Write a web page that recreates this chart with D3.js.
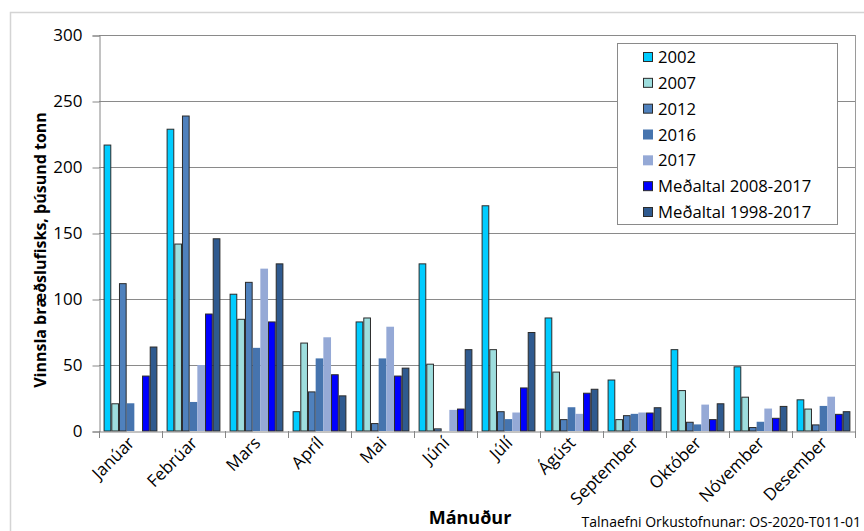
<!DOCTYPE html>
<html>
<head>
<meta charset="utf-8">
<script src="https://cdn.jsdelivr.net/npm/d3@7/dist/d3.min.js"></script>
<style>
  html, body { margin: 0; padding: 0; background: #fff; }
  svg { display: block; font-family: "Open Sans", "Noto Sans", sans-serif; }
</style>
</head>
<body>
<svg id="chart" width="864" height="531"></svg>
<script>
// ---- data ----
const months = ["Janúar", "Febrúar", "Mars", "Apríl", "Mai", "Júní", "Júlí", "Ágúst", "September", "Október", "Nóvember", "Desember"];
const seriesNames = ["2002", "2007", "2012", "2016", "2017", "Meðaltal 2008-2017", "Meðaltal 1998-2017"];
const v2002 = [217, 229, 104, 15, 83, 127, 171, 86, 39, 62, 49, 24];
const v2007 = [21, 142, 85, 67, 86, 51, 62, 45, 9, 31, 26, 17];
const v2012 = [112, 239, 113, 30, 6, 2, 15, 9, 12, 7, 3, 5];
const v2016 = [21, 22, 63, 55, 55, 0, 9, 18, 13, 5, 7, 19];
const v2017 = [0, 50, 123, 71, 79, 16, 14, 13, 14, 20, 17, 26];
const avg0817 = [42, 89, 83, 43, 42, 17, 33, 29, 14, 9, 10, 13];
const avg9817 = [64, 146, 127, 27, 48, 62, 75, 32, 18, 21, 19, 15];
const yTicks = [0, 50, 100, 150, 200, 250, 300];
const yTitle = "Vinnsla bræðslufisks, þúsund tonn";
const xTitle = "Mánuður";
const sourceText = "Talnaefni Orkustofnunar: OS-2020-T011-01";

const seriesValues = [v2002, v2007, v2012, v2016, v2017, avg0817, avg9817];
const colors = ["#00CCFF", "#9EDEDE", "#4F81BD", "#4674AE", "#95A9D6", "#0000FF", "#2F5A8F"];
const outlined = [true, true, true, false, false, true, true];

// ---- layout ----
const svg = d3.select("#chart");
const pLeft = 99, pRight = 855, pTop = 35, pBottom = 431;

// outer frame
svg.append("rect").attr("x", 10.5).attr("y", 12.5).attr("width", 900).attr("height", 600)
  .attr("fill", "none").attr("stroke", "#d4d4d4").attr("stroke-width", 1.5);

const x0 = d3.scaleBand().domain(months).range([pLeft, pRight]).padding(0);
const gap = 9.2;
const x1 = d3.scaleBand().domain(seriesNames).range([gap / 2, x0.bandwidth() - gap / 2]).padding(0);
const y = d3.scaleLinear().domain([0, 300]).range([pBottom, pTop]);

// gridlines
svg.append("g").selectAll("line").data(yTicks.filter(d => d > 0)).join("line")
  .attr("x1", pLeft).attr("x2", pRight)
  .attr("y1", d => Math.round(y(d)) + 0.5).attr("y2", d => Math.round(y(d)) + 0.5)
  .attr("stroke", "#8a8a8a").attr("stroke-width", 1);

// plot right border
svg.append("line").attr("x1", pRight + 0.5).attr("x2", pRight + 0.5).attr("y1", pTop).attr("y2", pBottom)
  .attr("stroke", "#9a9a9a");

// y axis
const yAxis = svg.append("g").attr("transform", `translate(${pLeft + 0.5},0.5)`)
  .call(d3.axisLeft(y).tickValues(yTicks).tickSize(7).tickPadding(10));
yAxis.select(".domain").attr("stroke", "#868686");
yAxis.selectAll(".tick line").attr("stroke", "#868686");
yAxis.selectAll("text").attr("font-size", 17).attr("fill", "#000")
  .attr("font-family", "'Open Sans', sans-serif");

// bars
const barsG = svg.append("g");
seriesNames.forEach((name, si) => {
  barsG.append("g").selectAll("rect").data(seriesValues[si].map((v, i) => ({ m: months[i], v })))
    .join("rect")
    .attr("x", d => x0(d.m) + x1(name) + (outlined[si] ? 0.5 : 0))
    .attr("y", d => y(d.v) + (outlined[si] ? 0.5 : 0))
    .attr("width", x1.bandwidth() - (outlined[si] ? 1 : 0))
    .attr("height", d => Math.max(0, y(0) - y(d.v) - (outlined[si] ? 0.5 : 0)))
    .attr("fill", colors[si])
    .attr("stroke", outlined[si] ? "#2b2b2b" : "none")
    .attr("stroke-width", 1)
    .attr("display", d => d.v > 0 ? null : "none");
});

// x axis
const xAxis = svg.append("g").attr("transform", `translate(0,${pBottom + 0.5})`)
  .call(d3.axisBottom(x0).tickSize(0).tickFormat(""));
xAxis.select(".domain").attr("stroke", "#868686");
svg.append("g").selectAll("line").data(months.slice(1)).join("line")
  .attr("x1", d => Math.round(x0(d)) + 0.5).attr("x2", d => Math.round(x0(d)) + 0.5)
  .attr("y1", pBottom).attr("y2", pBottom + 7).attr("stroke", "#868686");
svg.append("line").attr("x1", pLeft + 0.5).attr("x2", pLeft + 0.5).attr("y1", pBottom).attr("y2", pBottom + 7).attr("stroke", "#868686");
svg.append("line").attr("x1", pRight + 0.5).attr("x2", pRight + 0.5).attr("y1", pBottom).attr("y2", pBottom + 7).attr("stroke", "#868686");

// x labels
svg.append("g").selectAll("text").data(months).join("text")
  .attr("transform", d => `translate(${x0(d) + x0.bandwidth() / 2 + 5},${pBottom + 13}) rotate(-45)`)
  .attr("text-anchor", "end")
  .attr("font-size", 17).attr("fill", "#000")
  .text(d => d);

// axis titles
svg.append("text").attr("transform", `translate(46,250) rotate(-90)`)
  .attr("text-anchor", "middle").attr("font-size", 16).attr("font-weight", "bold").attr("fill", "#000")
  .text(yTitle);
svg.append("text").attr("x", 470).attr("y", 524)
  .attr("text-anchor", "middle").attr("font-size", 18).attr("font-weight", "bold").attr("fill", "#000")
  .text(xTitle);

// source
svg.append("rect").attr("x", 572).attr("y", 510).attr("width", 292).attr("height", 21).attr("fill", "#fff");
svg.append("text").attr("x", 861).attr("y", 527)
  .attr("text-anchor", "end").attr("font-size", 14).attr("fill", "#000")
  .text(sourceText);

// legend
const lg = svg.append("g");
lg.append("rect").attr("x", 617.5).attr("y", 43.5).attr("width", 220).attr("height", 181)
  .attr("fill", "#fff").attr("stroke", "#8a8a8a");
const rowY = d3.scalePoint().domain(seriesNames).range([57, 212]);
seriesNames.forEach((name, si) => {
  lg.append("rect").attr("x", outlined[si] ? 643.5 : 643).attr("y", rowY(name) - 5 + (outlined[si] ? 0.5 : 0))
    .attr("width", outlined[si] ? 9 : 10).attr("height", outlined[si] ? 9 : 10)
    .attr("fill", colors[si]).attr("stroke", outlined[si] ? "#2b2b2b" : "none");
  lg.append("text").attr("x", 658).attr("y", rowY(name) + 6)
    .attr("font-size", 16.7).attr("fill", "#000").text(name);
});
</script>
</body>
</html>
